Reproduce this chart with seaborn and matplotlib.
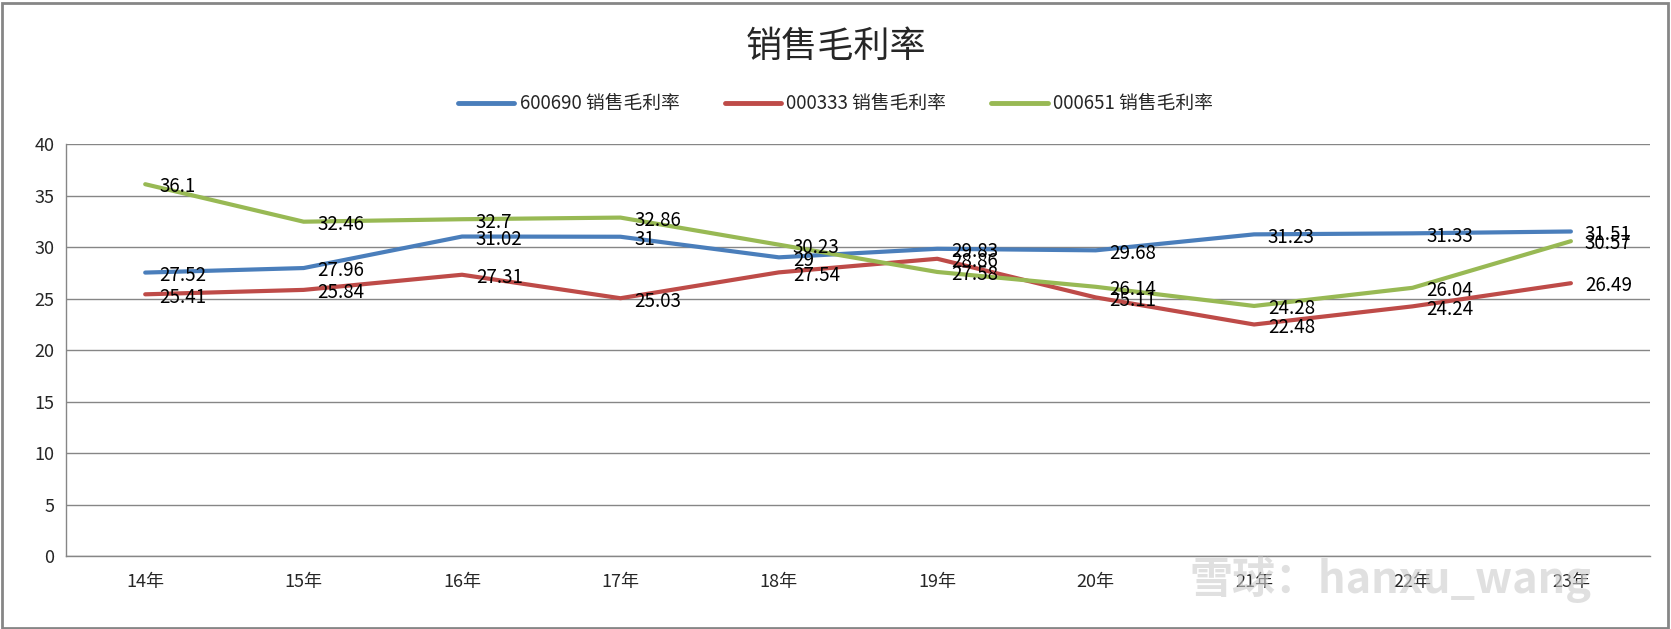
import matplotlib
matplotlib.use("Agg")
import matplotlib.pyplot as plt
from matplotlib.patches import Rectangle
import seaborn as sns
import pandas as pd

# 数据
years = ["14年", "15年", "16年", "17年", "18年", "19年", "20年", "21年", "22年", "23年"]
haier = [27.52, 27.96, 31.02, 31, 29, 29.83, 29.68, 31.23, 31.33, 31.51]
midea = [25.41, 25.84, 27.31, 25.03, 27.54, 28.86, 25.11, 22.48, 24.24, 26.49]
gree = [36.1, 32.46, 32.7, 32.86, 30.23, 27.58, 26.14, 24.28, 26.04, 30.57]
series_names = ["600690 销售毛利率", "000333 销售毛利率", "000651 销售毛利率"]
colors = ["#4A7EBB", "#BE4B48", "#98B954"]

sns.set_style("white")
plt.rcParams["font.family"] = ["Noto Sans CJK SC", "DejaVu Sans"]

rows = []
for name, vals in zip(series_names, [haier, midea, gree]):
    for i, v in enumerate(vals):
        rows.append({"idx": i, "year": years[i], "value": v, "series": name})
df = pd.DataFrame(rows)

fig = plt.figure(figsize=(16.71, 6.29), dpi=100)
ax = fig.add_axes([0.0395, 0.116, 0.948, 0.655])

sns.lineplot(data=df, x="idx", y="value", hue="series", palette=colors,
             linewidth=3, ax=ax, legend=False)

# 数据标签
for name, vals in zip(series_names, [haier, midea, gree]):
    for i, v in enumerate(vals):
        ax.annotate(f"{v:g}", (i, v), xytext=(10, -2), textcoords="offset points",
                    ha="left", va="center", fontsize=13.5, color="black")

ax.set_xlim(-0.5, len(years) - 0.5)
ax.set_ylim(0, 40)
ax.set_yticks(range(0, 41, 5))
ax.set_xticks(range(len(years)))
ax.set_xticklabels(years)
ax.set_xticks([i - 0.5 for i in range(len(years) + 1)], minor=True)
ax.tick_params(axis="x", which="major", length=0, pad=12, labelsize=13)
ax.tick_params(axis="x", which="minor", length=6, color="#868686", direction="out")
ax.tick_params(axis="y", length=5, color="#868686", direction="out", labelsize=13)
ax.yaxis.grid(True, color="#868686", linewidth=1)
ax.set_axisbelow(True)
ax.set_xlabel("")
ax.set_ylabel("")
for s in ["top", "right"]:
    ax.spines[s].set_visible(False)
for s in ["left", "bottom"]:
    ax.spines[s].set_color("#868686")
    ax.spines[s].set_linewidth(1)

# 标题与图例
fig.text(0.5, 0.925, "销售毛利率", ha="center", va="center", fontsize=26)
handles = [plt.Line2D([], [], color=c, linewidth=3.5) for c in colors]
fig.legend(handles, series_names, loc="center", bbox_to_anchor=(0.5, 0.835),
           ncol=3, frameon=False, fontsize=13.5, handlelength=3,
           columnspacing=2.4, handletextpad=0.3)

# 水印
fig.text(0.712, 0.078, "雪球：hanxu_wang", ha="left", va="center", fontsize=31,
         color="#cccccc", alpha=0.6, fontweight="bold", zorder=0)

# 图表外框
fig.patches.append(Rectangle((0.001, 0.002), 0.997, 0.994, transform=fig.transFigure,
                             fill=False, edgecolor="#868686", linewidth=2))

fig.savefig("out.png", dpi=100)
